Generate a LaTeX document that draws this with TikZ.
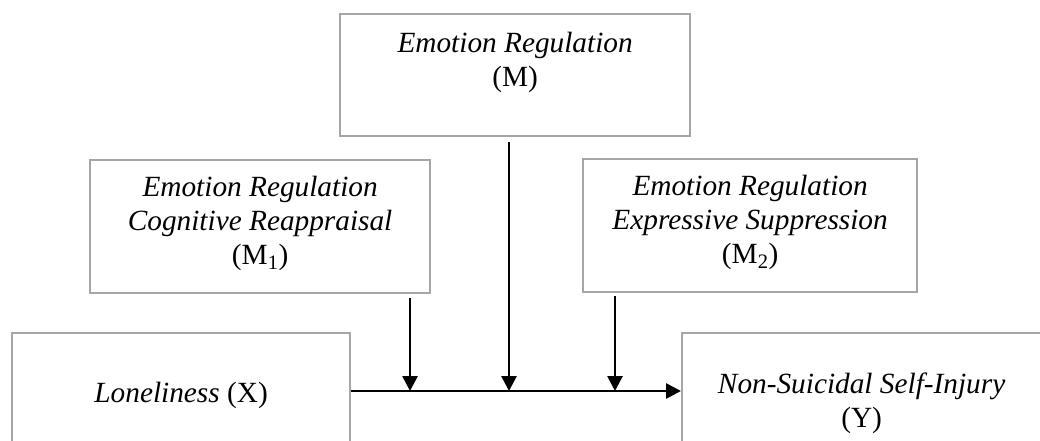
\documentclass[tikz,border=0pt]{standalone}
\usepackage{fontspec}
\setmainfont{Liberation Serif}
\usetikzlibrary{arrows.meta, calc}
\definecolor{boxgrey}{RGB}{166,166,166}
\tikzset{
varbox/.style={draw=boxgrey, line width=2.2pt, rectangle, anchor=north west,
  align=center, inner sep=0pt, font=\fontsize{29.3}{34}\selectfont},
link/.style={line width=2.7pt, -{Triangle[length=15pt, width=15pt]}}
}

\begin{document}
\begin{tikzpicture}[x=1pt, y=-1pt]
\useasboundingbox (0,0) rectangle (1040,441);
\node[varbox, minimum width=350pt, minimum height=122pt, text depth=31pt] (m) at (339,13) {\textit{Emotion Regulation}\\(M)};
\node[varbox, minimum width=340pt, minimum height=133pt, text depth=13pt] (m1) at (89,159) {\textit{Emotion Regulation}\\\textit{Cognitive Reappraisal}\\(M\textsubscript{1})};
\node[varbox, minimum width=334pt, minimum height=133pt, text depth=13pt] (m2) at (582,158) {\textit{Emotion Regulation}\\\textit{Expressive Suppression}\\(M\textsubscript{2})};
\node[varbox, minimum width=338pt, minimum height=124pt] (x) at (11,332) {\textit{Loneliness} (X)};
\node[varbox, minimum width=359pt, minimum height=140pt] (y) at (681,332) {\textit{Non-Suicidal Self-Injury}\\(Y)};
\coordinate (j1) at (410,391);
\coordinate (j) at (509,391);
\coordinate (j2) at (615,391);
\draw[link] (x.east |- j) -- (y.west |- j);
\draw[link] ($(m1.south -| j1)+(0,4)$) -- (j1);
\draw[link] ($(m.south -| j)+(0,5)$) -- (j);
\draw[link] ($(m2.south -| j2)+(0,3)$) -- (j2);
\end{tikzpicture}
\end{document}
